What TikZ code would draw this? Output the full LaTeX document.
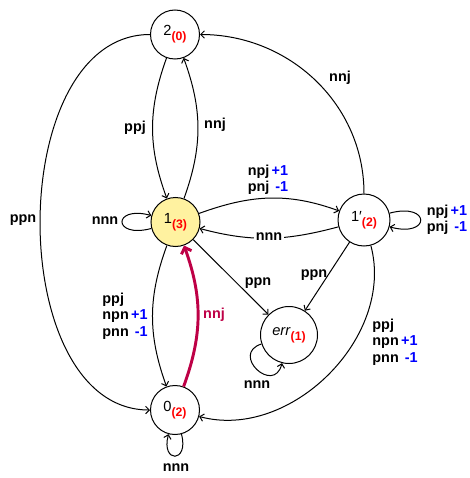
\documentclass[tikz,border=0pt]{standalone}
\usepackage{fontspec}
\setmainfont{Liberation Sans}
\usetikzlibrary{arrows.meta}
\definecolor{crim}{RGB}{190,0,70}
\definecolor{nodefill}{RGB}{255,242,160}
\newcommand{\lbl}[2]{#1\makebox[1.3em][r]{\textcolor{blue}{#2}}}
\newcommand{\stsub}[1]{\raisebox{-3.8pt}{\fontsize{9.2}{10}\selectfont\bfseries\textcolor{red}{(#1)}}}
\begin{document}
\begin{tikzpicture}[x=0.75pt,y=0.75pt,
  state/.style={circle,draw,line width=0.75pt,inner sep=0pt,minimum size=36.75pt,font=\fontsize{11}{12}\selectfont,fill=white},
  tr/.style={-{Straight Barb[length=2.8pt,width=5.6pt]},line width=0.75pt},
  lab/.style={font=\fontsize{10.8}{12.4}\selectfont\bfseries,inner sep=1pt,align=left},
]
\useasboundingbox (0,0) rectangle (470,-478);
\node[state] (s2) at (175,-34.5) {2\stsub{0}};
\node[state,fill=nodefill] (s1) at (175.5,-222) {1\stsub{3}};
\node[state,minimum size=39pt] (s1p) at (364,-220) {1′\stsub{2}};
\node[state,minimum size=42.75pt] (err) at (289,-335) {\textit{err}\stsub{1}};
\node[state] (s0) at (175,-410) {0\stsub{2}};

\draw[tr] (s2) to[bend right=20] (s1);
\draw[tr] (s1) to[bend right=20] (s2);
\draw[tr] (s1p) to[out=90,in=0] (s2);
\draw[tr] (s2) to[out=180,in=180] (s0);
\draw[tr] (s1) to[loop left] (s1);
\draw[tr] (s1) to[out=20,in=160] (s1p);
\draw[tr] (s1p) to[out=195,in=-15] (s1);
\draw[tr] (s1p) to[loop right] (s1p);
\draw[tr] (s1) -- (err);
\draw[tr] (s1p) -- (err);
\draw[tr] (err) to[loop,out=198,in=256,looseness=3,min distance=0pt] (err);
\draw[tr] (s1) to[bend right=20] (s0);
\draw[-{Straight Barb[length=4pt,width=8pt]},crim,line width=2.2pt] (s0) to[bend right=20] (s1);
\draw[tr] (s1p) to[out=-75,in=-15] (s0);
\draw[tr] (s0) to[loop below,looseness=6,min distance=3mm] (s0);

\node[lab] (l21) at (135,-128) {ppj};
\node[lab] (l12) at (215,-125) {nnj};
\node[lab] (l1p2) at (340,-78) {nnj};
\node[lab] (l20) at (23,-220) {ppn};
\node[lab] (l11) at (105,-221) {nnn};
\node[lab] (l11p) at (268,-180) {\lbl{npj}{+1}\\\lbl{pnj}{-1}};
\node[lab,fill=white] (l1p1) at (269,-237) {nnn};
\node[lab] (l1p1p) at (447,-220) {\lbl{npj}{+1}\\\lbl{pnj}{-1}};
\node[lab] (l1e) at (258,-283) {ppn};
\node[lab] (l1pe) at (314,-275) {ppn};
\node[lab] (lee) at (257,-385) {nnn};
\node[lab] (l10) at (125,-316) {ppj\\\lbl{npn}{+1}\\\lbl{pnn}{-1}};
\node[lab,text=crim] (l01) at (214,-315) {nnj};
\node[lab] (l1p0) at (395,-342) {ppj\\\lbl{npn}{+1}\\\lbl{pnn}{-1}};
\node[lab] (l00) at (176,-468) {nnn};
\end{tikzpicture}
\end{document}
